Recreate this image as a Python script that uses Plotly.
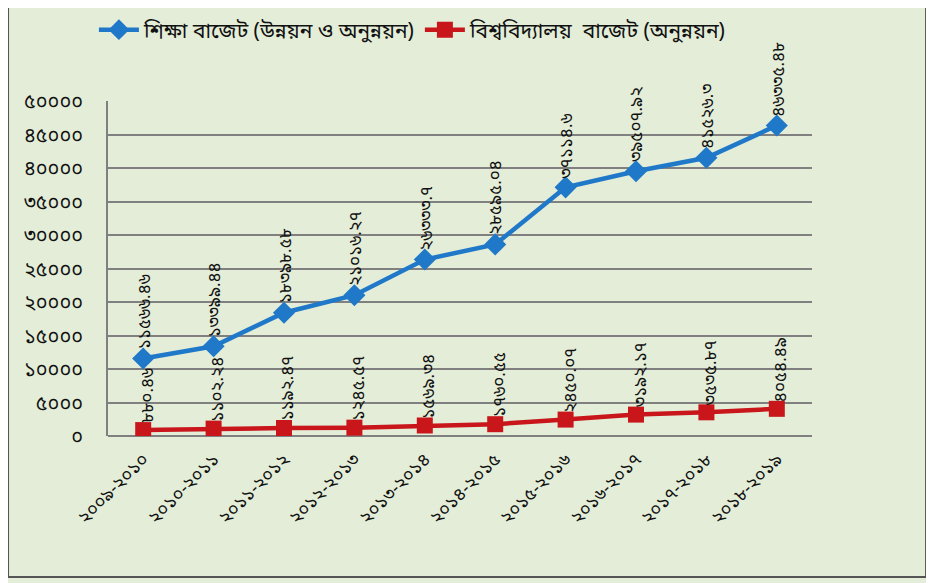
import plotly.graph_objects as go

years = ["২০০৯-২০১০", "২০১০-২০১১", "২০১১-২০১২", "২০১২-২০১৩", "২০১৩-২০১৪",
         "২০১৪-২০১৫", "২০১৫-২০১৬", "২০১৬-২০১৭", "২০১৭-২০১৮", "২০১৮-২০১৯"]

edu_budget = [11566.46, 13399.44, 18398.58, 21016.27, 26333.7,
              28595.04, 37114.6, 39507.92, 41526.3, 46335.48]
edu_labels = ["১১৫৬৬.৪৬", "১৩৩৯৯.৪৪", "১৮৩৯৮.৫৮", "২১০১৬.২৭", "২৬৩৩৩.৭",
              "২৮৫৯৫.০৪", "৩৭১১৪.৬", "৩৯৫০৭.৯২", "৪১৫২৬.৩", "৪৬৩৩৫.৪৮"]

uni_budget = [880.46, 1102.24, 1192.47, 1245.57, 1569.34,
              1760.55, 2450.07, 3192.17, 3535.87, 4054.49]
uni_labels = ["৮৮০.৪৬", "১১০২.২৪", "১১৯২.৪৭", "১২৪৫.৫৭", "১৫৬৯.৩৪",
              "১৭৬০.৫৫", "২৪৫০.০৭", "৩১৯২.১৭", "৩৫৩৫.৮৭", "৪০৫৪.৪৯"]

y_ticks = [0, 5000, 10000, 15000, 20000, 25000, 30000, 35000, 40000, 45000, 50000]
y_tick_labels = ["০", "৫০০০", "১০০০০", "১৫০০০", "২০০০০", "২৫০০০",
                 "৩০০০০", "৩৫০০০", "৪০০০০", "৪৫০০০", "৫০০০০"]

name_edu = "শিক্ষা বাজেট (উন্নয়ন ও অনুন্নয়ন)"
name_uni = "বিশ্ববিদ্যালয়  বাজেট (অনুন্নয়ন)"

FONT = "Noto Sans Bengali, Lohit Bengali, Noto Sans, DejaVu Sans, sans-serif"
BG = "#e3edd8"
BLUE = "#1f78c8"
RED = "#c8161b"

fig = go.Figure()
fig.add_trace(go.Scatter(
    x=years, y=edu_budget, name=name_edu, mode="lines+markers",
    line=dict(color=BLUE, width=4.5),
    marker=dict(symbol="diamond", size=17, color=BLUE),
))
fig.add_trace(go.Scatter(
    x=years, y=uni_budget, name=name_uni, mode="lines+markers",
    line=dict(color=RED, width=4.5),
    marker=dict(symbol="square", size=16, color=RED),
))

annotations = []
for xv, yv, lab in zip(years, edu_budget, edu_labels):
    annotations.append(dict(x=xv, y=yv, text=lab, textangle=-90, showarrow=False,
                            xanchor="center", yanchor="bottom", yshift=7, xshift=2,
                            font=dict(family=FONT, size=17, color="#111")))
for xv, yv, lab in zip(years, uni_budget, uni_labels):
    annotations.append(dict(x=xv, y=yv, text=lab, textangle=-90, showarrow=False,
                            xanchor="center", yanchor="bottom", yshift=5, xshift=5,
                            font=dict(family=FONT, size=17, color="#111")))

fig.update_layout(
    width=934, height=583,
    paper_bgcolor=BG, plot_bgcolor=BG,
    margin=dict(l=100, r=130, t=93, b=155, autoexpand=False),
    font=dict(family=FONT, size=14, color="#111"),
    showlegend=True,
    legend=dict(orientation="h", x=-0.02, y=1.212, xanchor="left", yanchor="middle",
                bgcolor="rgba(0,0,0,0)", font=dict(family=FONT, size=21, color="#111"),
                itemwidth=40, tracegroupgap=0),
    annotations=annotations,
    shapes=[dict(type="rect", xref="paper", yref="paper",
                 x0=-0.142, x1=1.162, y0=-0.421, y1=1.32,
                 line=dict(color="#555", width=2), fillcolor="rgba(0,0,0,0)")],
)
fig.update_xaxes(
    type="category", range=[-0.5, 9.5], tickangle=-45, showgrid=False, showline=False,
    automargin=False, ticks="", ticklabelstandoff=8,
    tickfont=dict(family=FONT, size=18, color="#111"),
)
fig.update_yaxes(
    range=[0, 50000], tickvals=y_ticks, ticktext=y_tick_labels, automargin=False,
    showgrid=True, gridcolor="#808080", gridwidth=1.8,
    showline=True, linecolor="#808080", linewidth=1.8,
    zeroline=True, zerolinecolor="#808080", zerolinewidth=1.8,
    ticks="", ticklen=0, ticklabelstandoff=19,
    tickfont=dict(family=FONT, size=20, color="#111"),
)

fig.write_html("out.html")
